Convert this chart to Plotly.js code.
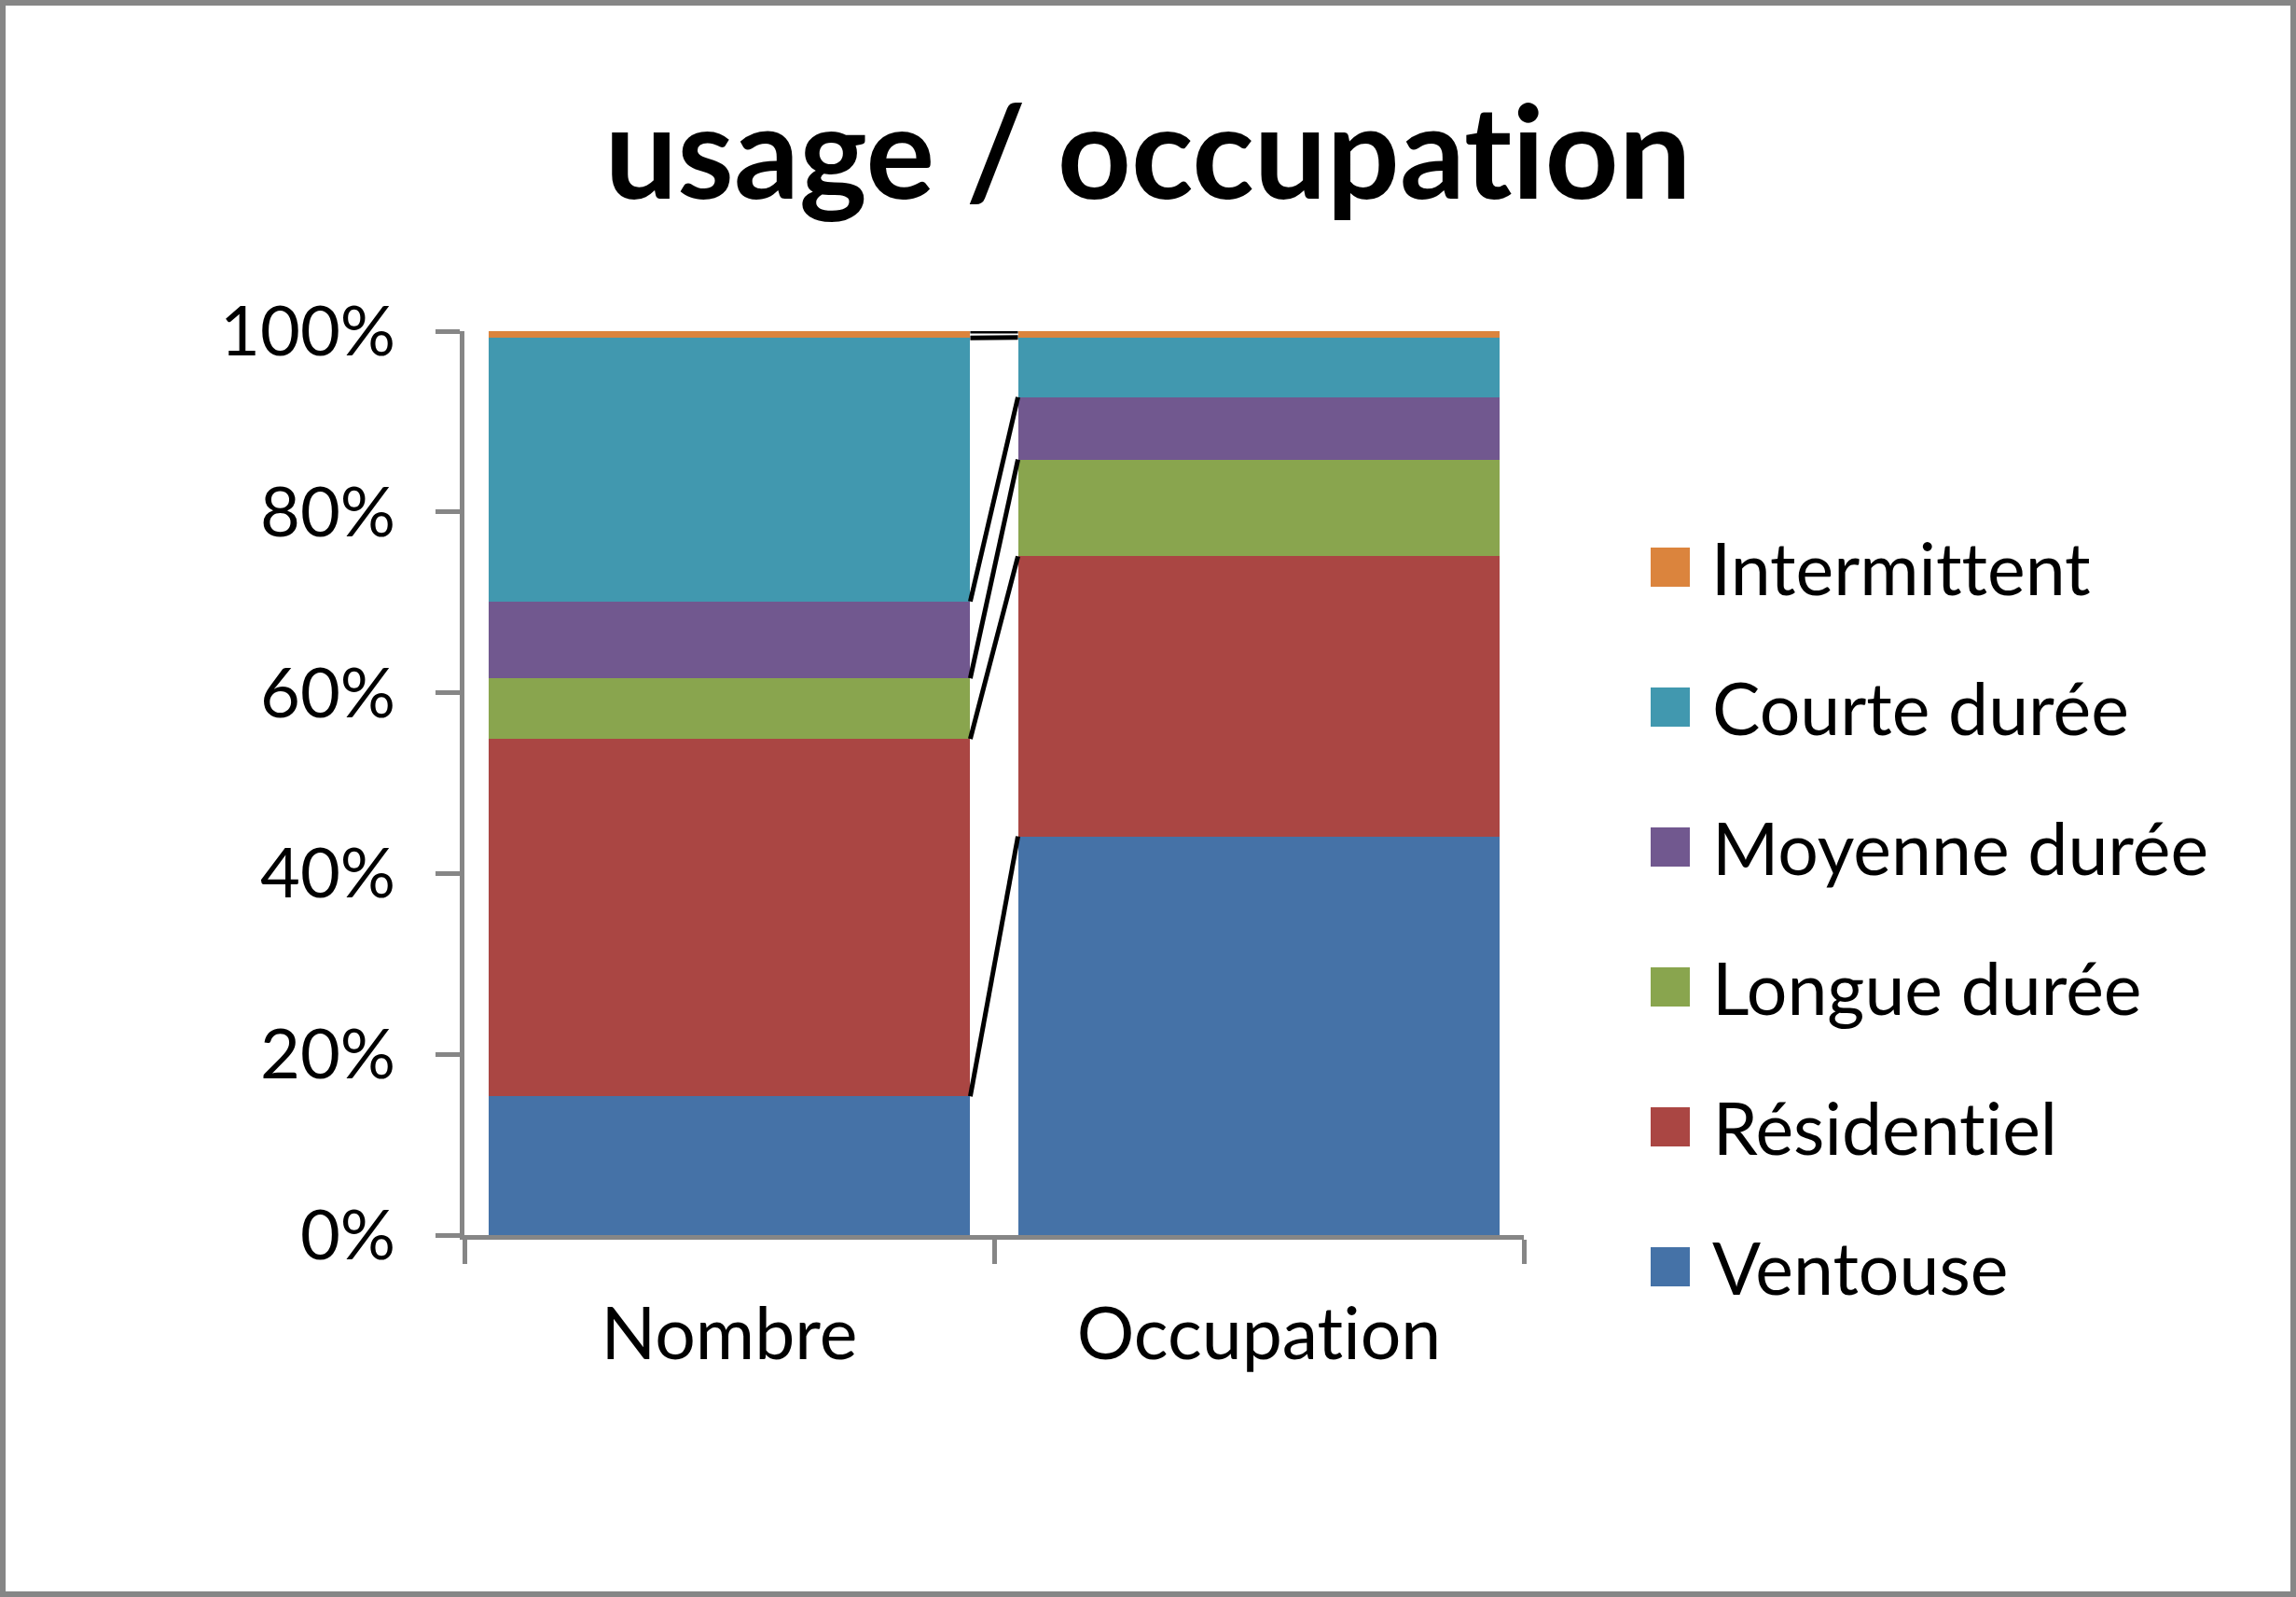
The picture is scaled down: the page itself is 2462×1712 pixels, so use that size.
<!DOCTYPE html>
<html>
<head>
<meta charset="utf-8">
<script src="https://cdn.plot.ly/plotly-3.0.1.min.js"></script>
<style>html,body{margin:0;padding:0;background:#fff;}#chart{width:2462px;height:1712px;}
#chart text{font-variant-ligatures:none;font-feature-settings:"liga" 0;}</style>
</head>
<body>
<div id="chart"></div>
<script>
// ---- data (shares of total) ----
const categories = ['Nombre', 'Occupation'];
const seriesNames = ['Ventouse', 'Résidentiel', 'Longue durée', 'Moyenne durée', 'Courte durée', 'Intermittent'];
const ventouse     = [0.1535, 0.441];
const residentiel  = [0.3955, 0.310];
const longueDuree  = [0.067, 0.107];
const moyenneDuree = [0.085, 0.069];
const courteDuree  = [0.2915, 0.066];
const intermittent = [0.0075, 0.007];
const yTickVals = [0, 0.2, 0.4, 0.6, 0.8, 1];

// ---- styles ----
const colors = ['#4572A7', '#AA4643', '#89A54E', '#71588F', '#4198AF', '#DB843D'];
const FONT = 'Lato, "Open Sans", sans-serif';
const W = 2462, H = 1712;
const M = {l: 498, r: 828, t: 355, b: 388};
const PW = W - M.l - M.r, PH = H - M.t - M.b;
const BARGAP = 0.09;
const px2x = px => (px - M.l) / PW;
const px2y = py => (H - M.b - py) / PH;

const seriesValues = [ventouse, residentiel, longueDuree, moyenneDuree, courteDuree, intermittent];

const traces = [];
seriesValues.forEach((vals, i) => {
  traces.push({
    type: 'bar', x: categories, y: vals, name: seriesNames[i],
    marker: {color: colors[i], line: {width: 0}},
    showlegend: false, hoverinfo: 'name+y'
  });
});

// series lines (connect the top of each segment between the two bars)
const half = (1 - BARGAP) / 2;
const cum = [0, 0];
seriesValues.forEach((vals, i) => {
  cum[0] += vals[0]; cum[1] += vals[1];
  traces.push({
    type: 'scatter', mode: 'lines', xaxis: 'x2', yaxis: 'y',
    x: [0 + half, 1 - half], y: [cum[0], cum[1]],
    line: {color: '#000000', width: 5}, showlegend: false, hoverinfo: 'skip'
  });
});

// custom legend (squares + labels), top item = last series
const shapes = [];
const annotations = [];
const legTop = 608, legStep = 150, sq = 42, sqLeft = 1770, txtLeft = 1834;
for (let k = 0; k < seriesNames.length; k++) {
  const i = seriesNames.length - 1 - k;
  const yc = legTop + k * legStep;
  shapes.push({type: 'rect', xref: 'paper', yref: 'paper',
    x0: px2x(sqLeft), x1: px2x(sqLeft + sq), y0: px2y(yc + sq / 2), y1: px2y(yc - sq / 2),
    fillcolor: colors[i], line: {width: 0}});
  annotations.push({xref: 'paper', yref: 'paper', x: px2x(txtLeft), y: px2y(yc),
    xanchor: 'left', yanchor: 'middle', showarrow: false, text: seriesNames[i],
    font: {family: FONT, size: 77, color: '#000'}});
}
// chart border
shapes.push({type: 'rect', xref: 'paper', yref: 'paper',
  x0: px2x(3), x1: px2x(W - 3), y0: px2y(H - 3), y1: px2y(3),
  line: {color: '#868686', width: 6}, fillcolor: 'rgba(0,0,0,0)', layer: 'below'});

const axisStyle = {
  showline: true, linecolor: '#868686', linewidth: 5,
  ticks: 'outside', ticklen: 26, tickwidth: 5, tickcolor: '#868686',
  showgrid: false, zeroline: false
};

const layout = {
  width: W, height: H,
  margin: M,
  paper_bgcolor: '#fff', plot_bgcolor: '#fff',
  barmode: 'stack', bargap: BARGAP,
  showlegend: false,
  title: {text: '<b>usage / occupation</b>', x: 0.5, xref: 'container', xanchor: 'center',
    y: 1 - 165 / H, yref: 'container', yanchor: 'middle',
    font: {family: FONT, size: 138, color: '#000'}},
  xaxis: Object.assign({}, axisStyle, {type: 'category', tickson: 'boundaries',
    range: [-0.5, 1.5], ticklabelstandoff: 36,
    tickfont: {family: FONT, size: 77, color: '#000'}}),
  xaxis2: {overlaying: 'x', type: 'linear', range: [-0.5, 1.5], visible: false},
  yaxis: Object.assign({}, axisStyle, {range: [0, 1], tickvals: yTickVals,
    tickformat: '.0%', ticklabelstandoff: 28,
    tickfont: {family: FONT, size: 74, color: '#000'}}),
  shapes: shapes,
  annotations: annotations
};

Plotly.newPlot('chart', traces, layout, {displayModeBar: false, staticPlot: true});
</script>
</body>
</html>
